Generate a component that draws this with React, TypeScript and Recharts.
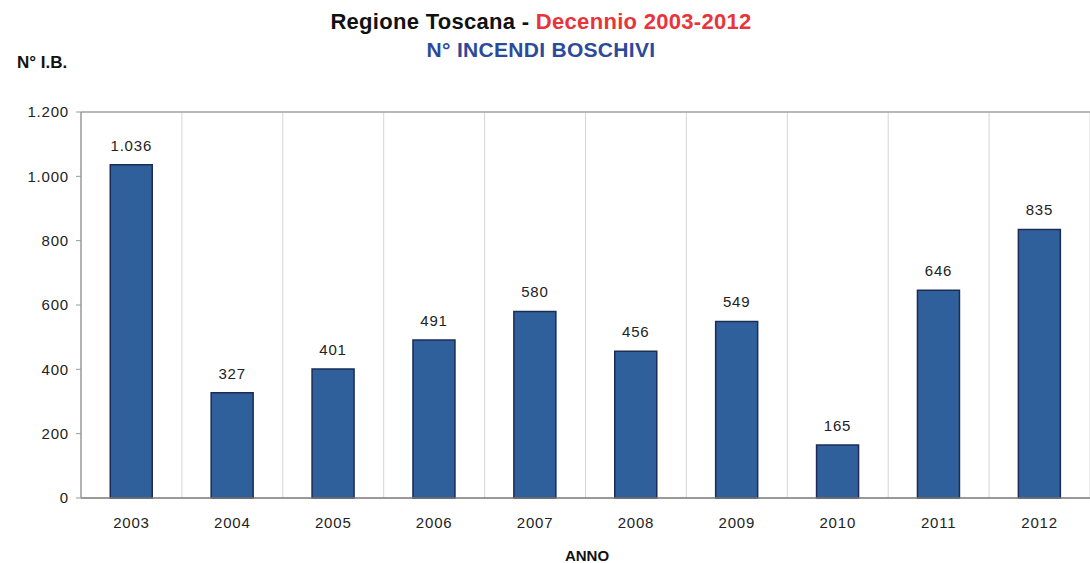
import {
  BarChart,
  Bar,
  XAxis,
  YAxis,
  CartesianGrid,
  LabelList,
  ReferenceLine,
} from "recharts";

const years = ["2003", "2004", "2005", "2006", "2007", "2008", "2009", "2010", "2011", "2012"];
const fires = [1036, 327, 401, 491, 580, 456, 549, 165, 646, 835];
const yTicks = [0, 200, 400, 600, 800, 1000, 1200];

const data = years.map((year, i) => ({ year, fires: fires[i] }));

// thousands separator with a dot, as in the Italian original
const fmt = (v: number) => String(v).replace(/\B(?=(\d{3})+(?!\d))/g, ".");

const FONT = "'Liberation Sans', Arial, sans-serif";
const tickStyle = { fill: "#222", fontSize: 15, fontFamily: FONT, letterSpacing: 0.8 };

export default function App() {
  return (
    <div
      style={{
        position: "absolute",
        left: 0,
        top: 0,
        width: 1090,
        height: 563,
        background: "#fff",
      }}
    >
      <BarChart
        width={1090}
        height={563}
        data={data}
        margin={{ top: 112, right: 0, left: 0, bottom: 35 }}
        barCategoryGap="29%"
        style={{ position: "absolute", left: 0, top: 0 }}
      >
        <CartesianGrid
          horizontal={false}
          stroke="#d6d6d6"
          verticalCoordinatesGenerator={({ offset }: any) =>
            years.map((_, i) => offset.left + ((i + 1) * offset.width) / years.length)
          }
        />
        <ReferenceLine y={1200} stroke="#a0a0a0" strokeWidth={1.5} />
        <XAxis
          dataKey="year"
          height={30}
          tickLine={false}
          axisLine={{ stroke: "#777", strokeWidth: 1.5 }}
          tick={tickStyle}
          tickMargin={13}
        />
        <YAxis
          width={81}
          domain={[0, 1200]}
          ticks={yTicks}
          tickFormatter={fmt}
          axisLine={{ stroke: "#999", strokeWidth: 1.5 }}
          tickLine={{ stroke: "#999" }}
          tickSize={5}
          tick={tickStyle}
          tickMargin={7}
        />
        <Bar
          dataKey="fires"
          fill="#2f609c"
          stroke="#1c2c55"
          strokeWidth={1.5}
          isAnimationActive={false}
        >
          <LabelList
            dataKey="fires"
            position="top"
            offset={14}
            formatter={(v: any) => fmt(Number(v))}
            style={tickStyle}
          />
        </Bar>
      </BarChart>
      <svg
        width={1090}
        height={563}
        style={{ position: "absolute", left: 0, top: 0, pointerEvents: "none" }}
        fontFamily={FONT}
        fontWeight="bold"
      >
        <text x={541} y={29} textAnchor="middle" fontSize={22} fill="#111" letterSpacing={0.3}>
          Regione Toscana - <tspan fill="#e8343a">Decennio 2003-2012</tspan>
        </text>
        <text x={541} y={57} textAnchor="middle" fontSize={21} fill="#2c4a9a" letterSpacing={0.3}>
          N° INCENDI BOSCHIVI
        </text>
        <text x={17} y={68} fontSize={17} fill="#111">
          N° I.B.
        </text>
        <text x={587} y={561} textAnchor="middle" fontSize={15} fill="#111">
          ANNO
        </text>
      </svg>
    </div>
  );
}
